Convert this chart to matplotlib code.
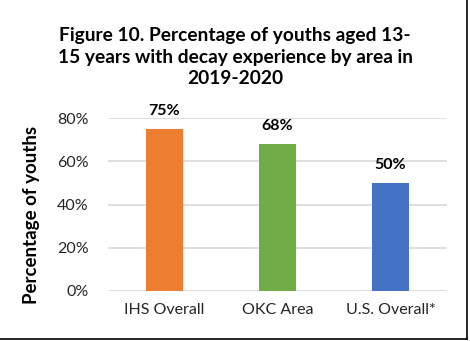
from matplotlib import pyplot as plt
from matplotlib.lines import Line2D
from matplotlib.ticker import PercentFormatter

areas = ["IHS Overall", "OKC Area", "U.S. Overall*"]
percent_decay = [75, 68, 50]
bar_colors = ["#ED7D31", "#70AD47", "#4472C4"]
y_ticks = [0, 20, 40, 60, 80]

plt.rcParams["font.family"] = ["Lato", "DejaVu Sans"]

fig = plt.figure(figsize=(4.7, 3.41), dpi=100)
ax = fig.add_axes([108 / 470, 1 - 291 / 341, 339 / 470, 173 / 341])

x = list(range(len(areas)))
bars = ax.bar(x, percent_decay, width=0.32, color=bar_colors, zorder=3)

for rect, value in zip(bars, percent_decay):
    ax.annotate(f"{value}%", (rect.get_x() + rect.get_width() / 2, value),
                xytext=(0, 8), textcoords="offset points",
                ha="center", va="bottom", fontsize=11.5, fontweight="bold")

ax.set_xlim(-0.5, 2.5)
ax.set_ylim(0, 80)
ax.set_yticks(y_ticks)
ax.yaxis.set_major_formatter(PercentFormatter(decimals=0))
ax.set_xticks(x)
ax.set_xticklabels(areas)
ax.tick_params(axis="both", length=0, labelsize=11.5, colors="#262626")
ax.tick_params(axis="y", pad=14)
ax.tick_params(axis="x", pad=9)
ax.grid(axis="y", color="#D9D9D9", linewidth=1.2, zorder=0)
for spine in ax.spines.values():
    spine.set_visible(False)

ax.set_ylabel("Percentage of youths", fontsize=13.5, fontweight="bold")
ax.yaxis.set_label_coords(-0.2, 0.44)

fig.text(0.5, 1 - 57 / 341,
         "Figure 10. Percentage of youths aged 13-\n"
         "15 years with decay experience by area in\n"
         "2019-2020",
         ha="center", va="center", fontsize=13.8, fontweight="bold",
         linespacing=1.3)

# frame on the right and bottom edges, as in the source image
fig.add_artist(Line2D([467 / 470, 467 / 470], [2 / 341, 1], color="black", linewidth=1.2))
fig.add_artist(Line2D([0, 467 / 470], [2 / 341, 2 / 341], color="black", linewidth=1.2))

fig.savefig("out.png", dpi=100)
